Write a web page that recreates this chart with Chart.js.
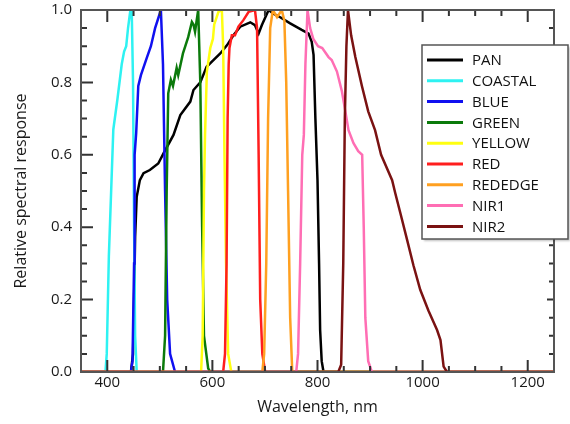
<!DOCTYPE html>
<html>
<head>
<meta charset="utf-8">
<script src="https://cdn.jsdelivr.net/npm/chart.js@4"></script>
<style>
  html, body { margin: 0; padding: 0; background: #fff; }
  #wrap { width: 570px; height: 424px; }
</style>
</head>
<body>
<div id="wrap"><canvas id="srf" width="570" height="424"></canvas></div>
<script>
// バンドごとの相対分光応答 [波長nm, 応答]
const pan = [[350,0],[445,0],[449,0.05],[451,0.2],[453,0.374],[456,0.484],[462,0.53],[469,0.549],[481,0.558],[497,0.576],[507,0.604],[526,0.655],[539,0.71],[558,0.747],[564,0.779],[577,0.8],[589,0.843],[601,0.86],[615,0.88],[628,0.903],[640,0.93],[653,0.954],[672,0.966],[681,0.958],[688,0.935],[694,0.958],[707,1.0],[716,0.99],[729,0.98],[748,0.963],[770,0.945],[783,0.935],[789,0.912],[792.5,0.876],[796,0.7],[800,0.53],[803,0.3],[805,0.116],[808,0.03],[811.5,0],[1250,0]];
const coastal = [[350,0],[396.5,0],[399,0.05],[403,0.32],[411.5,0.67],[419,0.75],[427.5,0.85],[432,0.885],[436,0.9],[439.5,0.95],[444,1.0],[446.5,1.0],[449,0.8],[451,0.4],[453,0.1],[456,0],[1250,0]];
const blue = [[350,0],[445,0],[448,0.03],[451,0.3],[452,0.6],[455,0.66],[459,0.79],[464,0.82],[475,0.867],[483,0.9],[491,0.95],[502,1.0],[506,0.85],[510,0.5],[514,0.2],[519.5,0.05],[529,0],[1250,0]];
const green = [[350,0],[506,0],[510,0.1],[513,0.5],[516,0.77],[521,0.807],[525,0.79],[532,0.84],[535,0.82],[544,0.88],[554,0.925],[561,0.967],[564,0.96],[567,0.94],[573,1.0],[577,0.8],[580.5,0.4],[584,0.1],[592,0.01],[596,0],[1250,0]];
const yellow = [[350,0],[578.5,0],[581.5,0.1],[584,0.5],[586,0.655],[589.5,0.83],[596,0.895],[601,0.92],[603.5,0.96],[611.5,0.995],[618,1.0],[620.5,0.9],[623,0.6],[626,0.3],[630,0.05],[636,0],[1250,0]];
const red = [[350,0],[620.5,0],[624,0.05],[627,0.3],[629,0.7],[631,0.85],[632.5,0.895],[637,0.93],[643,0.93],[649.5,0.954],[659,0.972],[669,0.995],[681,1.0],[685,0.95],[688,0.6],[691,0.2],[695,0.05],[700.5,0],[1250,0]];
const rededge = [[350,0],[695,0],[698.5,0.05],[702.5,0.3],[706,0.7],[710,0.95],[715,1.0],[723,0.98],[732,1.0],[737,0.97],[740.5,0.8],[744,0.5],[748,0.15],[752,0],[1250,0]];
const nir1 = [[350,0],[759.5,0],[763,0.05],[767,0.3],[771,0.6],[774,0.655],[777,0.85],[781,1.0],[786,0.95],[792,0.92],[801,0.9],[809,0.895],[821,0.87],[827,0.862],[837,0.83],[846.5,0.775],[853,0.72],[859,0.668],[868.5,0.632],[877.5,0.61],[885,0.6],[888,0.4],[891,0.15],[896.5,0.03],[903.5,0],[1250,0]];
const nir2 = [[350,0],[839.5,0],[845,0.02],[849,0.3],[852,0.7],[855,0.9],[858,1.0],[864,0.93],[872,0.87],[884.5,0.79],[896.5,0.72],[909.5,0.668],[921,0.6],[942,0.53],[948,0.494],[957.5,0.44],[970.5,0.365],[982.5,0.295],[995.5,0.227],[1011,0.17],[1027.5,0.116],[1034,0.088],[1040,0.015],[1046.5,0],[1250,0]];

const bandNames = ['PAN', 'COASTAL', 'BLUE', 'GREEN', 'YELLOW', 'RED', 'REDEDGE', 'NIR1', 'NIR2'];
const bandData = [pan, coastal, blue, green, yellow, red, rededge, nir1, nir2];
const bandColors = ['#000000', '#2ef2f2', '#1010f0', '#0b7a0b', '#ffff10', '#ff1e1e', '#ffa020', '#ff6eb4', '#7a1212'];

// 軸の目盛り
const xTicks = [400, 600, 800, 1000, 1200];
const yTicks = [0, 0.2, 0.4, 0.6, 0.8, 1.0];
const xMinor = [350, 450, 500, 550, 650, 700, 750, 850, 900, 950, 1050, 1100, 1150, 1250];
const yMinor = [0.05, 0.1, 0.15, 0.25, 0.3, 0.35, 0.45, 0.5, 0.55, 0.65, 0.7, 0.75, 0.85, 0.9, 0.95];

const FONT = '"Open Sans", "DejaVu Sans", sans-serif';
const FRAME = '#555555';
const TICK = '#333333';

// 枠線と内向きの目盛りを描く
const frameTicksPlugin = {
    id: 'frameTicks',
    afterDraw(chart) {
        const ctx = chart.ctx;
        const area = chart.chartArea;
        const xs = chart.scales.x;
        const ys = chart.scales.y;
        ctx.save();
        ctx.strokeStyle = TICK;
        ctx.lineWidth = 2;
        xTicks.concat(xMinor).forEach(v => {
            const px = xs.getPixelForValue(v);
            const len = xTicks.includes(v) ? 12 : 6;
            ctx.beginPath();
            ctx.moveTo(px, area.bottom);
            ctx.lineTo(px, area.bottom - len);
            ctx.moveTo(px, area.top);
            ctx.lineTo(px, area.top + len);
            ctx.stroke();
        });
        yTicks.concat(yMinor).forEach(v => {
            const py = ys.getPixelForValue(v);
            const major = yTicks.includes(v);
            ctx.beginPath();
            ctx.moveTo(area.left, py);
            ctx.lineTo(area.left + (major ? 12 : 6), py);
            ctx.moveTo(area.right, py);
            ctx.lineTo(area.right - (major ? 7 : 5), py);
            ctx.stroke();
        });
        ctx.strokeStyle = FRAME;
        ctx.strokeRect(area.left, area.top, area.right - area.left, area.bottom - area.top);
        ctx.restore();
    }
};

// 凡例（プロット内の右上に枠付きで）
const boxLegendPlugin = {
    id: 'boxLegend',
    afterDraw(chart, args, opts) {
        const { ctx } = chart;
        const { x0, y0, w, h, rowH } = opts;
        ctx.save();
        ctx.shadowColor = 'rgba(0,0,0,0.25)';
        ctx.shadowOffsetX = 2;
        ctx.shadowOffsetY = 2;
        ctx.shadowBlur = 2;
        ctx.fillStyle = '#ffffff';
        ctx.fillRect(x0, y0, w, h);
        ctx.shadowColor = 'transparent';
        ctx.strokeStyle = '#555555';
        ctx.lineWidth = 1.5;
        ctx.strokeRect(x0, y0, w, h);

        ctx.font = '15px ' + FONT;
        ctx.textBaseline = 'middle';
        ctx.textAlign = 'left';
        chart.data.datasets.forEach((ds, i) => {
            const cy = y0 + 15 + i * rowH;
            ctx.strokeStyle = ds.borderColor;
            ctx.lineWidth = 3;
            ctx.beginPath();
            ctx.moveTo(x0 + 5, cy);
            ctx.lineTo(x0 + 41, cy);
            ctx.stroke();
            ctx.fillStyle = '#111111';
            ctx.fillText(ds.label, x0 + 50, cy + 1);
        });
        ctx.restore();
    }
};

const datasets = bandNames.map((name, i) => ({
    label: name,
    data: bandData[i].map(p => ({ x: p[0], y: p[1] })),
    borderColor: bandColors[i],
    borderWidth: 2.5,
    pointRadius: 0,
    fill: false,
    tension: 0,
    // 後のバンドほど手前に描く
    order: bandNames.length - i
}));

new Chart(document.getElementById('srf').getContext('2d'), {
    type: 'line',
    data: { datasets },
    plugins: [frameTicksPlugin, boxLegendPlugin],
    options: {
        responsive: false,
        animation: false,
        layout: { padding: { top: 10, right: 16, left: 0, bottom: 0 } },
        plugins: {
            legend: { display: false },
            tooltip: { enabled: false },
            boxLegend: { x0: 422, y0: 45, w: 146, h: 194, rowH: 20.8 }
        },
        scales: {
            x: {
                type: 'linear',
                min: 350,
                max: 1250,
                afterFit: (s) => { s.height = 52; },
                afterBuildTicks: (s) => { s.ticks = xTicks.map(v => ({ value: v })); },
                grid: { display: false, drawTicks: false },
                border: { display: false },
                ticks: {
                    padding: 2,
                    color: '#1a1a1a',
                    font: { family: FONT, size: 15 },
                    callback: (v) => String(v)
                },
                title: {
                    display: true,
                    text: 'Wavelength, nm',
                    color: '#1a1a1a',
                    font: { family: FONT, size: 16 },
                    padding: { top: 0, bottom: 7 }
                }
            },
            y: {
                type: 'linear',
                min: 0,
                max: 1,
                // ラベルの余白でプロット上端が下がらないようにする
                afterFit: (s) => { s.width = 81; s.paddingTop = 0; s.paddingBottom = 0; },
                afterBuildTicks: (s) => { s.ticks = yTicks.map(v => ({ value: v })); },
                grid: { display: false, drawTicks: false },
                border: { display: false },
                ticks: {
                    padding: 9,
                    color: '#1a1a1a',
                    font: { family: FONT, size: 15 },
                    callback: (v) => Number(v).toFixed(1)
                },
                title: {
                    display: true,
                    text: 'Relative spectral response',
                    color: '#1a1a1a',
                    font: { family: FONT, size: 16 },
                    padding: { top: 12, bottom: 0 }
                }
            }
        }
    }
});
</script>
</body>
</html>
